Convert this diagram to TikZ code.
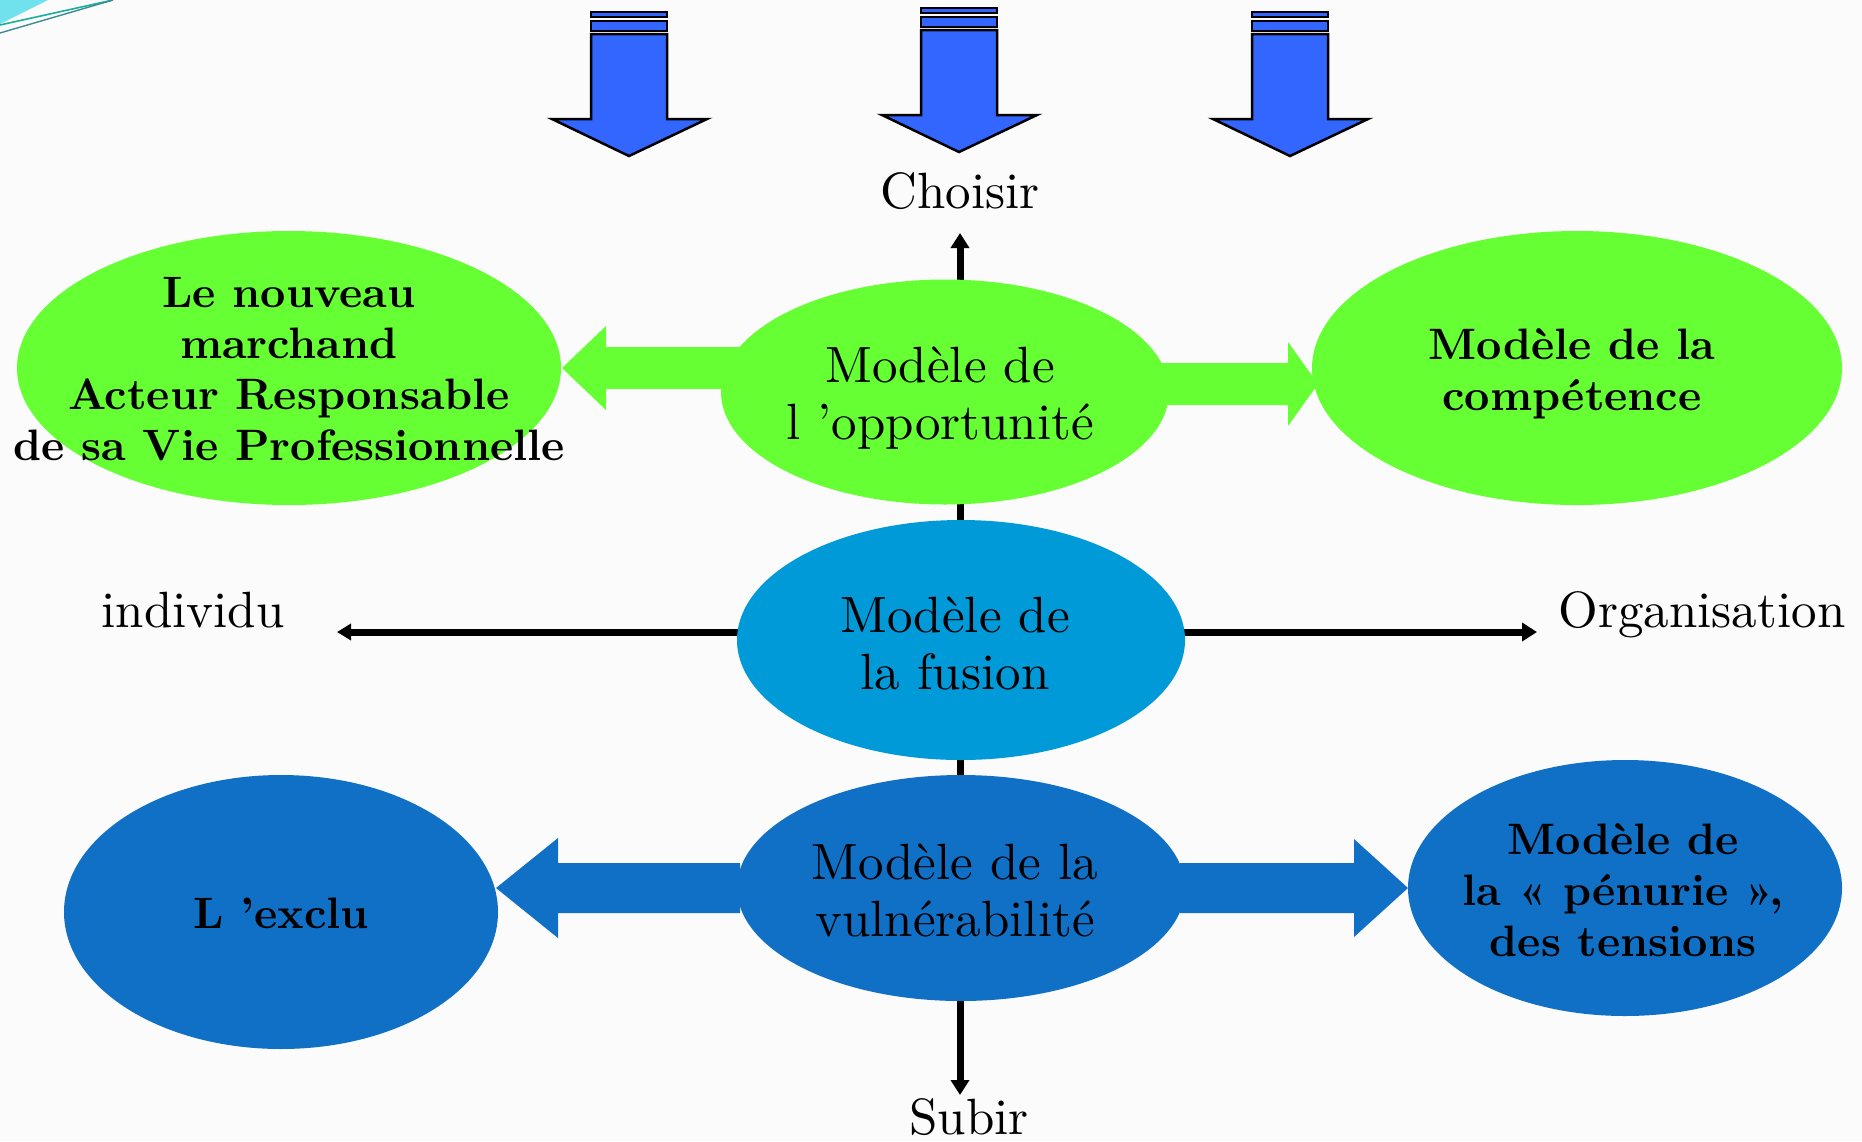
\documentclass[tikz,border=0pt]{standalone}
\usepackage{fontspec}
\setmainfont{lmroman10-regular.otf}[BoldFont=lmroman10-bold.otf]
\usetikzlibrary{arrows.meta,shapes.geometric}

\definecolor{bgpaper}{HTML}{FBFBFB}
\definecolor{leafgreen}{HTML}{66FF33}
\definecolor{fusionblue}{HTML}{009AD8}
\definecolor{deepblue}{HTML}{1070C6}
\definecolor{dropblue}{HTML}{3366FF}
\definecolor{cornercyan}{HTML}{70E2EE}
\definecolor{cornerteal}{HTML}{17B09C}
\definecolor{cornergrey}{HTML}{3C8C94}

% block arrow: colour, tail x, neck x, tip x, y, shaft half height, head half height
\newcommand\fatarrow[7]{%
  \fill[#1] (#2,#5-#6) -- (#3,#5-#6) -- (#3,#5-#7) -- (#4,#5)
            -- (#3,#5+#7) -- (#3,#5+#6) -- (#2,#5+#6) -- cycle;}

\tikzset{
  oval/.style={ellipse, inner sep=0pt},
  caption/.style={align=center, inner sep=0pt, text=black},
  plain/.style={caption, font=\fontsize{51}{57}\selectfont},
  heavy/.style={caption, font=\fontsize{44}{51}\selectfont\bfseries},
  axis/.style={line width=7pt, draw=black},
  dropper/.pic={
    \begin{scope}[fill=dropblue, draw=black, line width=2.5pt, line join=miter]
      \filldraw (-38,12) rectangle (38,17);
      \filldraw (-38,21) rectangle (38,31);
      \filldraw (-38,34) -- (38,34) -- (38,119) -- (78,119) -- (0,156)
                -- (-77,119) -- (-38,119) -- cycle;
    \end{scope}
  }
}

\begin{document}
\begin{tikzpicture}[x=1pt, y=-1pt]
  \useasboundingbox (0,0) rectangle (1862,1141);
  \fill[bgpaper] (0,0) rectangle (1862,1141);

  % corner ornament
  \fill[cornercyan] (0,0) -- (48,0) -- (0,24) -- cycle;
  \draw[cornerteal, line width=1.6pt] (0,25) -- (113,0);
  \draw[cornergrey, line width=1.4pt] (0,33) -- (113,0);

  % three falling arrows
  \pic at (629,0) {dropper};
  \pic at (959,-4) {dropper};
  \pic at (1290,0) {dropper};

  % axes
  \coordinate (hub) at (960,632);
  \coordinate (toptip) at (960,233);
  \coordinate (bottip) at (960,1095);
  \coordinate (lefttip) at (337,632);
  \coordinate (righttip) at (1537,632);
  \draw[axis, -{Triangle[length=15pt,width=18pt]}] (hub) -- (toptip);
  \draw[axis, -{Triangle[length=15pt,width=18pt]}] (hub) -- (bottip);
  \draw[axis, -{Triangle[length=14pt,width=16pt]}] (hub) -- (lefttip);
  \draw[axis, -{Triangle[length=15pt,width=18pt]}] (hub) -- (righttip);

  % block arrows
  \fatarrow{leafgreen}{740}{606}{562}{368}{21}{42}
  \fatarrow{leafgreen}{1160}{1288}{1318}{384}{21}{42}
  \fatarrow{deepblue}{740}{558}{496}{888}{25}{50}
  \fatarrow{deepblue}{1180}{1354}{1408}{888}{25}{49}

  % ellipses
  \node[oval, fill=leafgreen, minimum width=544pt, minimum height=274pt] (march) at (289,368) {};
  \node[oval, fill=leafgreen, minimum width=530pt, minimum height=274pt] (comp) at (1577,368) {};
  \node[oval, fill=leafgreen, minimum width=448pt, minimum height=225pt] (opp) at (945,392) {};
  \node[oval, fill=fusionblue, minimum width=448pt, minimum height=240pt] (fus) at (961,640) {};
  \node[oval, fill=deepblue, minimum width=448pt, minimum height=226pt] (vul) at (961,888) {};
  \node[oval, fill=deepblue, minimum width=434pt, minimum height=274pt] (excl) at (281,912) {};
  \node[oval, fill=deepblue, minimum width=434pt, minimum height=256pt] (pen) at (1625,888) {};

  % texts inside the ellipses
  \node[heavy] (marchtxt) at (289,369) {Le nouveau\\marchand\\Acteur Responsable\\de sa Vie Professionnelle};
  \node[heavy] (comptxt) at (1572,374) {Modèle de la\\compétence};
  \node[plain] (opptxt) at (940,398) {Modèle de\\l ’opportunité};
  \node[plain] (fustxt) at (955,643) {Modèle de\\ la fusion};
  \node[plain] (vultxt) at (955,890) {Modèle de la\\vulnérabilité};
  \node[heavy] (excltxt) at (281,913) {L ’exclu};
  \node[heavy] (pentxt) at (1623,890) {Modèle de\\la « pénurie »,\\des tensions};

  % axis labels
  \node[plain, anchor=base] (choisir) at (960,208) {Choisir};
  \node[plain, anchor=base] (subir) at (969,1134) {Subir};
  \node[plain, anchor=base] (indiv) at (193,627) {individu};
  \node[plain, anchor=base] (orga) at (1702,627) {Organisation};
\end{tikzpicture}
\end{document}
